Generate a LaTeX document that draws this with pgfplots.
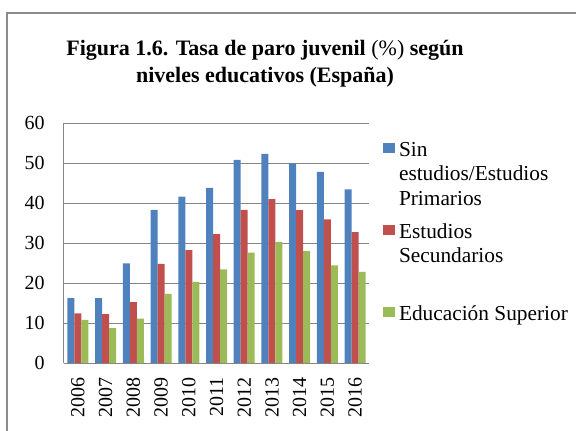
\documentclass[border=0pt]{standalone}
\usepackage{fontspec}
\setmainfont{Liberation Serif}
\usepackage{pgfplots}
\pgfplotsset{compat=1.18}

\definecolor{sinest}{HTML}{4F81BD}
\definecolor{secund}{HTML}{C0504D}
\definecolor{superior}{HTML}{9BBB59}
\definecolor{gridgray}{HTML}{868686}
\definecolor{framegray}{HTML}{8C8C8C}

\pgfplotsset{
  sq legend/.style={legend image code/.code={\fill[##1] (0pt,2.25pt) rectangle (9pt,9.75pt);}}
}

\begin{document}
\begin{tikzpicture}
\useasboundingbox (0,0) rectangle (432pt,322.5pt);
\draw[framegray, line width=1.1pt] (5.25pt,312.75pt) rectangle (470pt,-30pt);

% title, two lines
\node[font=\fontsize{16.5}{20}\selectfont\bfseries, anchor=base] at (198.75pt,281.25pt)
  {Figura 1.6. Tasa de paro juvenil {\mdseries(\%)} según};
\node[font=\fontsize{16.5}{20}\selectfont\bfseries, anchor=base] at (198.75pt,261pt)
  {niveles educativos (España)};

\begin{axis}[
    at={(48pt,50.25pt)}, anchor=south west,
    scale only axis,
    width=228.75pt, height=180pt,
    ybar=0pt, bar width=5.25pt,
    xmin=-0.5, xmax=10.5,
    ymin=0, ymax=60,
    xtick={0,...,10},
    xticklabels={2006,2007,2008,2009,2010,2011,2012,2013,2014,2015,2016},
    ytick={0,10,...,60},
    major tick length=0pt,
    axis x line*=bottom, axis y line*=left,
    axis line style={gridgray, line width=0.75pt, -},
    ymajorgrids, grid style={gridgray, line width=0.75pt},
    tick label style={font=\fontsize{15}{17}\selectfont},
    /pgf/number format/assume math mode=true,
    xticklabel style={rotate=90, anchor=east, inner sep=0pt},
    yticklabel style={anchor=east, inner sep=0pt},
    xticklabel shift=10.5pt, yticklabel shift=14.25pt,
    legend style={at={(1.046,0.918)}, anchor=north west, draw=none, fill=none,
      inner sep=0pt, outer sep=0pt, row sep=0pt,
      font=\fontsize{16}{18.4}\selectfont,
      nodes={inner sep=0pt, anchor=base west},
      /tikz/every odd column/.style={column sep=3pt}},
]
\addplot[fill=sinest, draw=none, sq legend] coordinates {
  (0,16.2) (1,16.2) (2,24.9) (3,38.3) (4,41.6) (5,43.8)
  (6,50.8) (7,52.3) (8,49.9) (9,47.8) (10,43.4)};
\addlegendentry[text height=10pt, text depth=51.5pt]{\parbox[t]{150pt}{\baselineskip=18.4pt Sin\\estudios/Estudios\\Primarios}}
\addplot[fill=secund, draw=none, sq legend] coordinates {
  (0,12.4) (1,12.2) (2,15.2) (3,24.8) (4,28.2) (5,32.2)
  (6,38.3) (7,41.0) (8,38.2) (9,35.9) (10,32.7)};
\addlegendentry[text height=10pt, text depth=51.5pt]{\parbox[t]{150pt}{\baselineskip=18.4pt Estudios\\Secundarios}}
\addplot[fill=superior, draw=none, sq legend] coordinates {
  (0,10.8) (1,8.7) (2,11.1) (3,17.3) (4,20.3) (5,23.4)
  (6,27.6) (7,30.3) (8,28.0) (9,24.4) (10,22.8)};
\addlegendentry[text height=10pt, text depth=3pt]{Educación Superior}
\end{axis}
\end{tikzpicture}
\end{document}
